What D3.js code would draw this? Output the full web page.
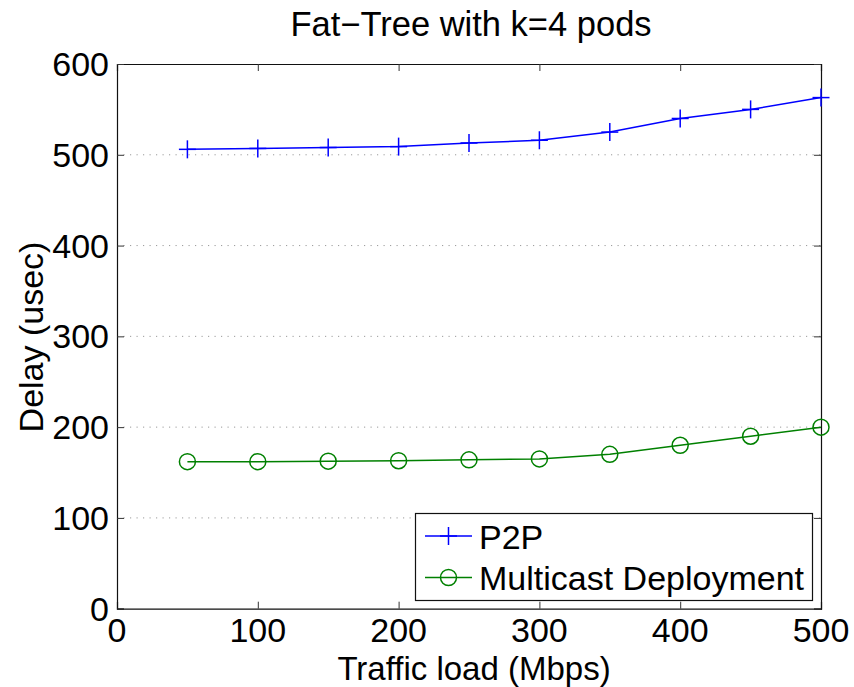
<!DOCTYPE html>
<html>
<head>
<meta charset="utf-8">
<script src="https://cdn.jsdelivr.net/npm/d3@7"></script>
<style>
  html, body { margin: 0; padding: 0; background: #fff; }
  svg { display: block; }
  text { font-family: "Liberation Sans", Arial, Helvetica, sans-serif; fill: #000; }
</style>
</head>
<body>
<svg id="chart" width="854" height="687"></svg>
<script>
// Traffic load (Mbps) on the x axis
const loads = [50, 100, 150, 200, 250, 300, 350, 400, 450, 500];
// Mean delay (usec) for each deployment
const p2pDelay = [506, 507, 508, 509, 513, 516, 525, 540, 550, 563];
const multicastDelay = [162, 162, 162.5, 163, 164, 165, 170, 180, 190, 200];
const seriesNames = ["P2P", "Multicast Deployment"];
const xTicks = [0, 100, 200, 300, 400, 500];
const yTicks = [0, 100, 200, 300, 400, 500, 600];
const gridTicks = [100, 200, 300, 400, 500];

const svg = d3.select("#chart");
const plot = { left: 117, right: 821, top: 64, bottom: 608.7 };

const x = d3.scaleLinear().domain([0, 500]).range([plot.left, plot.right]);
const y = d3.scaleLinear().domain([0, 600]).range([plot.bottom, plot.top]);

const FONT = 34;

function label(g, str, px, py, size, anchor, rotate) {
  return g.append("text")
    .attr("transform", `translate(${px},${py})` + (rotate ? ` rotate(${rotate})` : ""))
    .attr("font-size", size)
    .attr("text-anchor", anchor)
    .text(str);
}

// horizontal dotted grid
svg.append("g").selectAll("line").data(gridTicks).join("line")
  .attr("x1", plot.left).attr("x2", plot.right)
  .attr("y1", d => y(d)).attr("y2", d => y(d))
  .attr("stroke", "#9a9a9a").attr("stroke-width", 1)
  .attr("stroke-dasharray", "1.2,5.3");

// axes: ticks point inward, labels drawn separately
const axisG = svg.append("g");
const bottomAxis = d3.axisBottom(x).tickValues(xTicks).tickSize(-7).tickFormat("");
const topAxis = d3.axisTop(x).tickValues(xTicks).tickSize(-7).tickFormat("");
const leftAxis = d3.axisLeft(y).tickValues(yTicks).tickSize(-7).tickFormat("");
const rightAxis = d3.axisRight(y).tickValues(yTicks).tickSize(-7).tickFormat("");
axisG.append("g").attr("transform", `translate(0,${plot.bottom})`).call(bottomAxis);
axisG.append("g").attr("transform", `translate(0,${plot.top})`).call(topAxis);
axisG.append("g").attr("transform", `translate(${plot.left},0)`).call(leftAxis);
axisG.append("g").attr("transform", `translate(${plot.right},0)`).call(rightAxis);
axisG.selectAll(".domain").attr("stroke", "#111").attr("stroke-width", 1.2);
axisG.selectAll(".tick line").attr("stroke", "#333").attr("stroke-width", 1);

// tick labels
const tl = svg.append("g");
xTicks.forEach(v => label(tl, String(v), x(v), 642, FONT, "middle"));
yTicks.forEach(v => label(tl, String(v), 109, y(v) + 12, FONT, "end"));

// title and axis titles
label(svg, "Fat\u2212Tree with k=4 pods", 471, 36, 34.5, "middle");
label(svg, "Traffic load (Mbps)", 474, 679.5, 33, "middle");
label(svg, "Delay (usec)", 43, 337, FONT, "middle", -90);

const lineGen = d3.line().x(d => x(d[0])).y(d => y(d[1]));
const p2pPts = loads.map((l, i) => [l, p2pDelay[i]]);
const mcPts = loads.map((l, i) => [l, multicastDelay[i]]);

const blue = "#0000ff", green = "#008000";

// P2P series with plus markers
svg.append("path").datum(p2pPts).attr("d", lineGen)
  .attr("fill", "none").attr("stroke", blue).attr("stroke-width", 1.5);
const plus = (g, cx, cy, color) => {
  g.append("line").attr("x1", cx - 8.5).attr("x2", cx + 8.5).attr("y1", cy).attr("y2", cy)
    .attr("stroke", color).attr("stroke-width", 1.5);
  g.append("line").attr("x1", cx).attr("x2", cx).attr("y1", cy - 9).attr("y2", cy + 9)
    .attr("stroke", color).attr("stroke-width", 1.5);
};
const pm = svg.append("g");
p2pPts.forEach(d => plus(pm, x(d[0]), y(d[1]), blue));

// Multicast series with circle markers
svg.append("path").datum(mcPts).attr("d", lineGen)
  .attr("fill", "none").attr("stroke", green).attr("stroke-width", 1.5);
svg.append("g").selectAll("circle").data(mcPts).join("circle")
  .attr("cx", d => x(d[0])).attr("cy", d => y(d[1])).attr("r", 8)
  .attr("fill", "none").attr("stroke", green).attr("stroke-width", 1.5);

// legend
const lg = svg.append("g");
lg.append("rect").attr("x", 415.5).attr("y", 513.5).attr("width", 397).attr("height", 87)
  .attr("fill", "#fff").attr("stroke", "#111").attr("stroke-width", 1.2);
const rows = [
  { name: seriesNames[0], color: blue, cy: 536, marker: "plus" },
  { name: seriesNames[1], color: green, cy: 577.5, marker: "circle" }
];
rows.forEach(r => {
  lg.append("line").attr("x1", 425).attr("x2", 472).attr("y1", r.cy).attr("y2", r.cy)
    .attr("stroke", r.color).attr("stroke-width", 1.5);
  if (r.marker === "plus") plus(lg, 448.5, r.cy, r.color);
  else lg.append("circle").attr("cx", 448.5).attr("cy", r.cy).attr("r", 8)
    .attr("fill", "none").attr("stroke", r.color).attr("stroke-width", 1.5);
  label(lg, r.name, 479, r.cy + 12.5, FONT, "start");
});
</script>
</body>
</html>
